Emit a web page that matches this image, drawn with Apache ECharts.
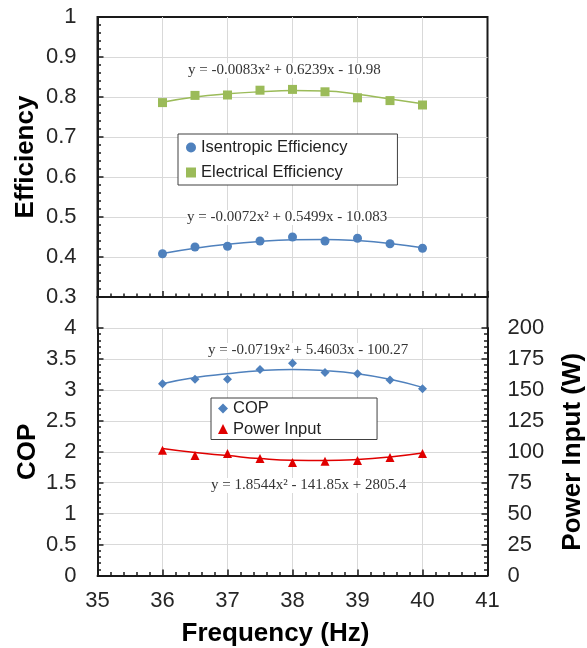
<!DOCTYPE html>
<html>
<head>
<meta charset="utf-8">
<script src="https://cdn.jsdelivr.net/npm/echarts@6/dist/echarts.min.js"></script>
<style>
  html, body { margin: 0; padding: 0; background: #fff; }
  #main { width: 587px; height: 648px; }
</style>
</head>
<body>
<div id="main"></div>
<script>
// frequency (Hz) of each test point
var freq = [36, 36.5, 37, 37.5, 38, 38.5, 39, 39.5, 40];

// top panel: efficiencies
var isentropic = [0.408, 0.425, 0.427, 0.440, 0.450, 0.440, 0.447, 0.433, 0.422];
var electrical = [0.786, 0.804, 0.805, 0.817, 0.819, 0.813, 0.798, 0.791, 0.780];
// trend curves
var isentropicFit = [0.409, 0.422, 0.432, 0.439, 0.443, 0.444, 0.441, 0.434, 0.423];
var electricalFit = [0.787, 0.800, 0.808, 0.813, 0.816, 0.815, 0.807, 0.795, 0.783];

// bottom panel: COP and power input (W)
var cop = [3.10, 3.17, 3.17, 3.33, 3.43, 3.28, 3.26, 3.16, 3.02];
var copFit = [3.10, 3.20, 3.26, 3.31, 3.33, 3.31, 3.26, 3.17, 3.04];
var power = [101.2, 96.9, 98.5, 94.5, 91.3, 92.3, 92.9, 95.3, 98.5];
var powerFit = [102.6, 99.3, 96.9, 94.5, 93.1, 92.9, 93.7, 95.8, 99.0];

var blue = '#4f81bd';
var green = '#9bbb59';
var red = '#e00000';
var font = '"Liberation Sans", Arial, sans-serif';
var serif = '"Liberation Serif", "Times New Roman", serif';

function pairs(ys) {
  return freq.map(function (x, i) { return [x, ys[i]]; });
}

var tickLabel = { fontSize: 22, color: '#262626', fontFamily: font };
var splitLine = { show: true, lineStyle: { color: '#d9d9d9', width: 1 } };
var splitNoMax = { show: true, showMaxLine: false, lineStyle: { color: '#d9d9d9', width: 1 } };
var blackLine = { show: true, lineStyle: { color: '#1a1a1a', width: 2 } };
var majorTick = { show: true, inside: true, length: 6, lineStyle: { color: '#1a1a1a', width: 1.5 } };
var minorTick = { show: true, splitNumber: 5, length: 3.5, lineStyle: { color: '#1a1a1a', width: 1.5 } };
var nameStyle = { fontSize: 26, fontWeight: 'bold', color: '#000', fontFamily: font };

var myChart = echarts.init(document.getElementById('main'));
var option = {
  animation: false,
  backgroundColor: '#fff',
  grid: [
    { left: 97.5, right: 99.5, top: 17, height: 280, show: true, outerBoundsMode: 'none',
      containLabel: false, borderColor: '#1a1a1a', borderWidth: 2, backgroundColor: 'transparent' },
    { left: 97.5, right: 99.5, top: 328, height: 247.5, outerBoundsMode: 'none', containLabel: false }
  ],
  xAxis: [
    { type: 'value', gridIndex: 0, min: 35, max: 41, interval: 1,
      axisLine: blackLine, axisTick: majorTick, minorTick: minorTick,
      axisLabel: { show: false }, splitLine: splitNoMax },
    { type: 'value', gridIndex: 1, min: 35, max: 41, interval: 1,
      axisLine: blackLine, axisTick: majorTick, minorTick: minorTick,
      axisLabel: Object.assign({ margin: 14 }, tickLabel), splitLine: splitNoMax,
      name: 'Frequency (Hz)', nameLocation: 'middle', nameGap: 45, nameMoveOverlap: false,
      nameTextStyle: Object.assign({ padding: [0, 34, 0, 0] }, nameStyle) }
  ],
  yAxis: [
    { type: 'value', gridIndex: 0, min: 0.3, max: 1, interval: 0.1,
      axisLine: blackLine, axisTick: majorTick, minorTick: minorTick,
      axisLabel: Object.assign({ margin: 21 }, tickLabel), splitLine: splitNoMax,
      name: 'Efficiency', nameLocation: 'middle', nameGap: 59, nameMoveOverlap: false,
      nameTextStyle: nameStyle },
    { type: 'value', gridIndex: 1, min: 0, max: 4, interval: 0.5,
      axisLine: blackLine, axisTick: majorTick, minorTick: minorTick,
      axisLabel: Object.assign({ margin: 21 }, tickLabel), splitLine: splitLine,
      name: 'COP', nameLocation: 'middle', nameGap: 57, nameMoveOverlap: false,
      nameTextStyle: nameStyle },
    { type: 'value', gridIndex: 1, position: 'right', min: 0, max: 200, interval: 25,
      axisLine: blackLine, axisTick: majorTick, minorTick: minorTick,
      axisLabel: Object.assign({ margin: 20 }, tickLabel), splitLine: { show: false },
      name: 'Power Input (W)', nameLocation: 'middle', nameGap: 72, nameMoveOverlap: false,
      nameTextStyle: nameStyle }
  ],
  legend: [
    { orient: 'vertical', left: 178, top: 134, selectedMode: false,
      borderColor: '#404040', borderWidth: 1, backgroundColor: '#fff',
      padding: [5, 50, 4, 8], itemGap: 8, itemWidth: 10, itemHeight: 10,
      textStyle: { fontSize: 16.5, color: '#222', fontFamily: font },
      data: [{ name: 'Isentropic Efficiency', icon: 'circle' },
             { name: 'Electrical Efficiency', icon: 'rect' }] },
    { orient: 'vertical', left: 211, top: 398, selectedMode: false,
      borderColor: '#404040', borderWidth: 1, backgroundColor: '#fff',
      padding: [2, 56, 2, 7], itemGap: 3.5, itemWidth: 10, itemHeight: 10,
      textStyle: { fontSize: 16.5, color: '#222', fontFamily: font },
      data: [{ name: 'COP', icon: 'diamond' },
             { name: 'Power Input', icon: 'triangle' }] }
  ],
  graphic: [
    { type: 'line', shape: { x1: 97.5, y1: 296, x2: 97.5, y2: 329 },
      style: { stroke: '#1a1a1a', lineWidth: 2 }, z: 10 },
    { type: 'line', shape: { x1: 487.5, y1: 296, x2: 487.5, y2: 329 },
      style: { stroke: '#1a1a1a', lineWidth: 2 }, z: 10 },
    { type: 'text', left: 188, top: 63, z: 20,
      style: { text: 'y = -0.0083x² + 0.6239x - 10.98', font: '15px ' + serif,
               fill: '#333', backgroundColor: '#fff' } },
    { type: 'text', left: 187, top: 210, z: 20,
      style: { text: 'y = -0.0072x² + 0.5499x - 10.083', font: '15px ' + serif,
               fill: '#333', backgroundColor: '#fff' } },
    { type: 'text', left: 208, top: 343, z: 20,
      style: { text: 'y = -0.0719x² + 5.4603x - 100.27', font: '15px ' + serif,
               fill: '#333', backgroundColor: '#fff' } },
    { type: 'text', left: 211, top: 478, z: 20,
      style: { text: 'y = 1.8544x² - 141.85x + 2805.4', font: '15px ' + serif,
               fill: '#333', backgroundColor: '#fff' } }
  ],
  series: [
    { name: 'Isentropic fit', type: 'line', xAxisIndex: 0, yAxisIndex: 0, smooth: true,
      showSymbol: false, data: pairs(isentropicFit), lineStyle: { color: blue, width: 1.5 } },
    { name: 'Electrical fit', type: 'line', xAxisIndex: 0, yAxisIndex: 0, smooth: true,
      showSymbol: false, data: pairs(electricalFit), lineStyle: { color: green, width: 1.5 } },
    { name: 'COP fit', type: 'line', xAxisIndex: 1, yAxisIndex: 1, smooth: true,
      showSymbol: false, data: pairs(copFit), lineStyle: { color: blue, width: 1.5 } },
    { name: 'Power fit', type: 'line', xAxisIndex: 1, yAxisIndex: 2, smooth: true,
      showSymbol: false, data: pairs(powerFit), lineStyle: { color: red, width: 1.5 } },
    { name: 'Isentropic Efficiency', type: 'scatter', xAxisIndex: 0, yAxisIndex: 0,
      symbol: 'circle', symbolSize: 9, itemStyle: { color: blue, opacity: 1 }, data: pairs(isentropic) },
    { name: 'Electrical Efficiency', type: 'scatter', xAxisIndex: 0, yAxisIndex: 0,
      symbol: 'rect', symbolSize: 9, itemStyle: { color: green, opacity: 1 }, data: pairs(electrical) },
    { name: 'COP', type: 'scatter', xAxisIndex: 1, yAxisIndex: 1,
      symbol: 'diamond', symbolSize: 9, itemStyle: { color: blue, opacity: 1 }, data: pairs(cop) },
    { name: 'Power Input', type: 'scatter', xAxisIndex: 1, yAxisIndex: 2,
      symbol: 'triangle', symbolSize: 9, itemStyle: { color: red, opacity: 1 }, data: pairs(power) }
  ]
};
myChart.setOption(option);
</script>
</body>
</html>
